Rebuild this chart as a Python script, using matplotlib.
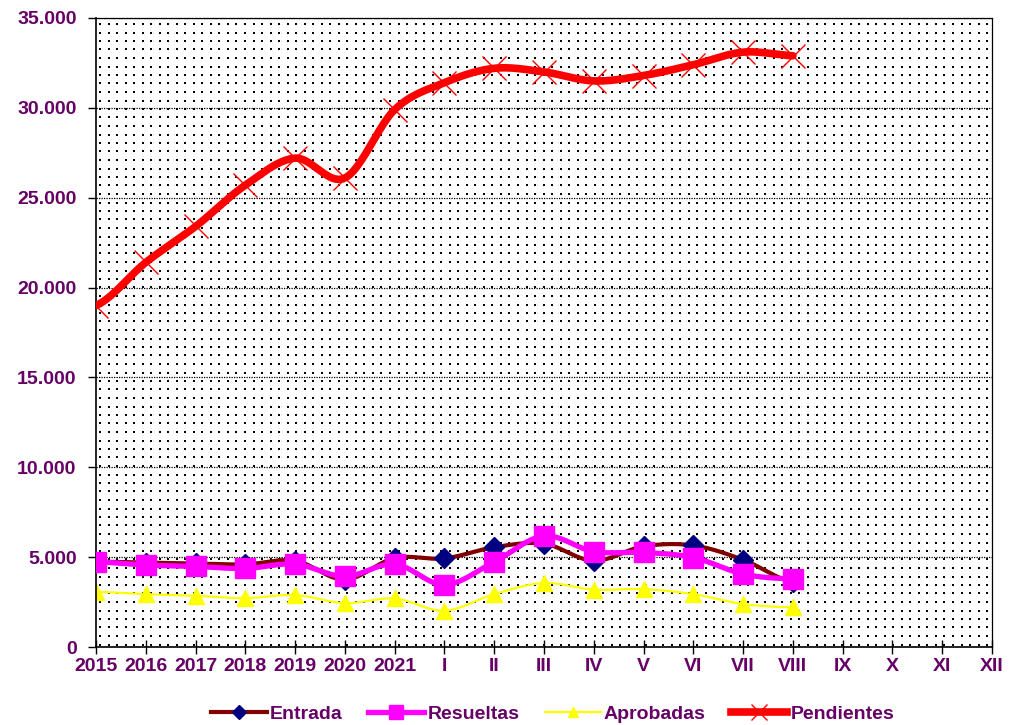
import numpy as np
import matplotlib.pyplot as plt
from matplotlib.lines import Line2D
from matplotlib.ticker import FuncFormatter

categories = ['2015', '2016', '2017', '2018', '2019', '2020', '2021',
              'I', 'II', 'III', 'IV', 'V', 'VI', 'VII', 'VIII', 'IX', 'X', 'XI', 'XII']

entrada = [4750, 4700, 4650, 4600, 4800, 3750, 4950,
           4930, 5550, 5750, 4800, 5600, 5650, 4850, 3600]
resueltas = [4740, 4560, 4480, 4370, 4610, 3930, 4610,
             3460, 4740, 6180, 5310, 5260, 4980, 4060, 3780]
aprobadas = [3070, 2940, 2850, 2720, 2890, 2440, 2700,
             2020, 2940, 3560, 3190, 3220, 2940, 2390, 2200]
pendientes = [19000, 21400, 23400, 25700, 27200, 26100, 29900,
              31400, 32200, 32000, 31500, 31800, 32400, 33100, 32900]

TEXT = '#660066'
FS = 14
plt.rcParams['font.family'] = ['Liberation Sans', 'DejaVu Sans']
plt.rcParams['font.weight'] = 'bold'


def smooth(y, n=24):
    # catmull-rom style smoothing, like Excel's "smoothed line"
    y = np.asarray(y, dtype=float)
    x = np.arange(len(y), dtype=float)
    px = np.concatenate([[2 * x[0] - x[1]], x, [2 * x[-1] - x[-2]]])
    py = np.concatenate([[y[0]], y, [y[-1]]])
    xs, ys = [], []
    for i in range(1, len(px) - 2):
        t = np.linspace(0, 1, n, endpoint=False)
        p0, p1, p2, p3 = py[i - 1], py[i], py[i + 1], py[i + 2]
        q0, q1, q2, q3 = px[i - 1], px[i], px[i + 1], px[i + 2]
        for (a0, a1, a2, a3, out) in ((q0, q1, q2, q3, xs), (p0, p1, p2, p3, ys)):
            out.extend(0.5 * (2 * a1 + (-a0 + a2) * t
                              + (2 * a0 - 5 * a1 + 4 * a2 - a3) * t ** 2
                              + (-a0 + 3 * a1 - 3 * a2 + a3) * t ** 3))
    xs.append(x[-1])
    ys.append(y[-1])
    return np.array(xs), np.array(ys)


W, H = 1023, 725
L, R, T, B = 96, 992, 18, 647
fig = plt.figure(figsize=(W / 100, H / 100), dpi=100)
ax = fig.add_axes([L / W, (H - B) / H, (R - L) / W, (B - T) / H])
ax.set_facecolor('none')

# excel-like dotted pattern fill, drawn as crisp pixels behind the axes
pat = np.zeros((H, W, 4))
for yy in np.arange(T + 5, B - 1, 8.5):
    for xx in np.arange(L + 3, R - 1, 8.53):
        r, c = int(round(yy)), int(round(xx))
        pat[r:r + 2, c:c + 2] = [0, 0, 0, 1]
fig.figimage(pat, xo=0, yo=0, origin='upper', zorder=-1)

series = [
    ('Entrada', entrada, '#800000', 3.0, 'D', '#000080', 10, 1),
    ('Resueltas', resueltas, '#ff00ff', 3.8, 's', '#ff00ff', 14, 2),
    ('Aprobadas', aprobadas, '#ffff00', 1.6, '^', '#ffff00', 11, 1),
    ('Pendientes', pendientes, '#ff0000', 5.5, 'x', '#ff0000', 17, 3),
]

handles = []
for name, vals, lc, lw, mk, mc, ms, z in series:
    sx, sy = smooth(vals)
    ax.plot(sx, sy, color=lc, lw=lw, solid_capstyle='round', zorder=z + 1)
    if mk == 'x':
        ax.plot(range(len(vals)), vals, linestyle='none', marker='x', markersize=ms,
                markeredgecolor=mc, markeredgewidth=1.0, zorder=z + 1)
    else:
        ax.plot(range(len(vals)), vals, linestyle='none', marker=mk, markersize=ms,
                markerfacecolor=mc, markeredgecolor=mc, zorder=z + 1)
    handles.append(Line2D([], [], color=lc, lw=lw, marker=mk, markersize=ms * 0.7,
                          markerfacecolor=mc, markeredgecolor=mc,
                          markeredgewidth=1.0, label=name))

ax.set_xlim(0, len(categories) - 1)
ax.set_ylim(0, 35000)
ax.set_xticks(range(len(categories)))
ax.set_xticklabels(categories)
ax.set_yticks(range(0, 35001, 5000))
ax.yaxis.set_major_formatter(FuncFormatter(lambda v, p: f'{int(v):,}'.replace(',', '.')))

ax.grid(axis='y', color='black', linestyle=(0, (1, 1)), linewidth=0.9, zorder=0.5)
ax.set_axisbelow(True)
for s in ['top', 'right']:
    ax.spines[s].set_linestyle((0, (1, 1)))
    ax.spines[s].set_linewidth(0.9)
ax.spines['left'].set_linewidth(1.2)
ax.spines['bottom'].set_linewidth(1.2)

ax.tick_params(axis='x', direction='inout', length=10, width=1, colors='black',
               labelcolor=TEXT, labelsize=FS, pad=3)
ax.tick_params(axis='y', direction='out', length=6, width=1, colors='black',
               labelcolor=TEXT, labelsize=FS, pad=8)
for lab in ax.get_xticklabels() + ax.get_yticklabels():
    lab.set_fontweight('bold')

leg = fig.legend(handles=handles, loc='center', ncol=4, frameon=False,
                 bbox_to_anchor=(0.54, 0.015), fontsize=FS, handlelength=2.9,
                 handletextpad=0.15, columnspacing=1.3)
for t in leg.get_texts():
    t.set_color(TEXT)
    t.set_fontweight('bold')

fig.savefig('out.png', dpi=100)
